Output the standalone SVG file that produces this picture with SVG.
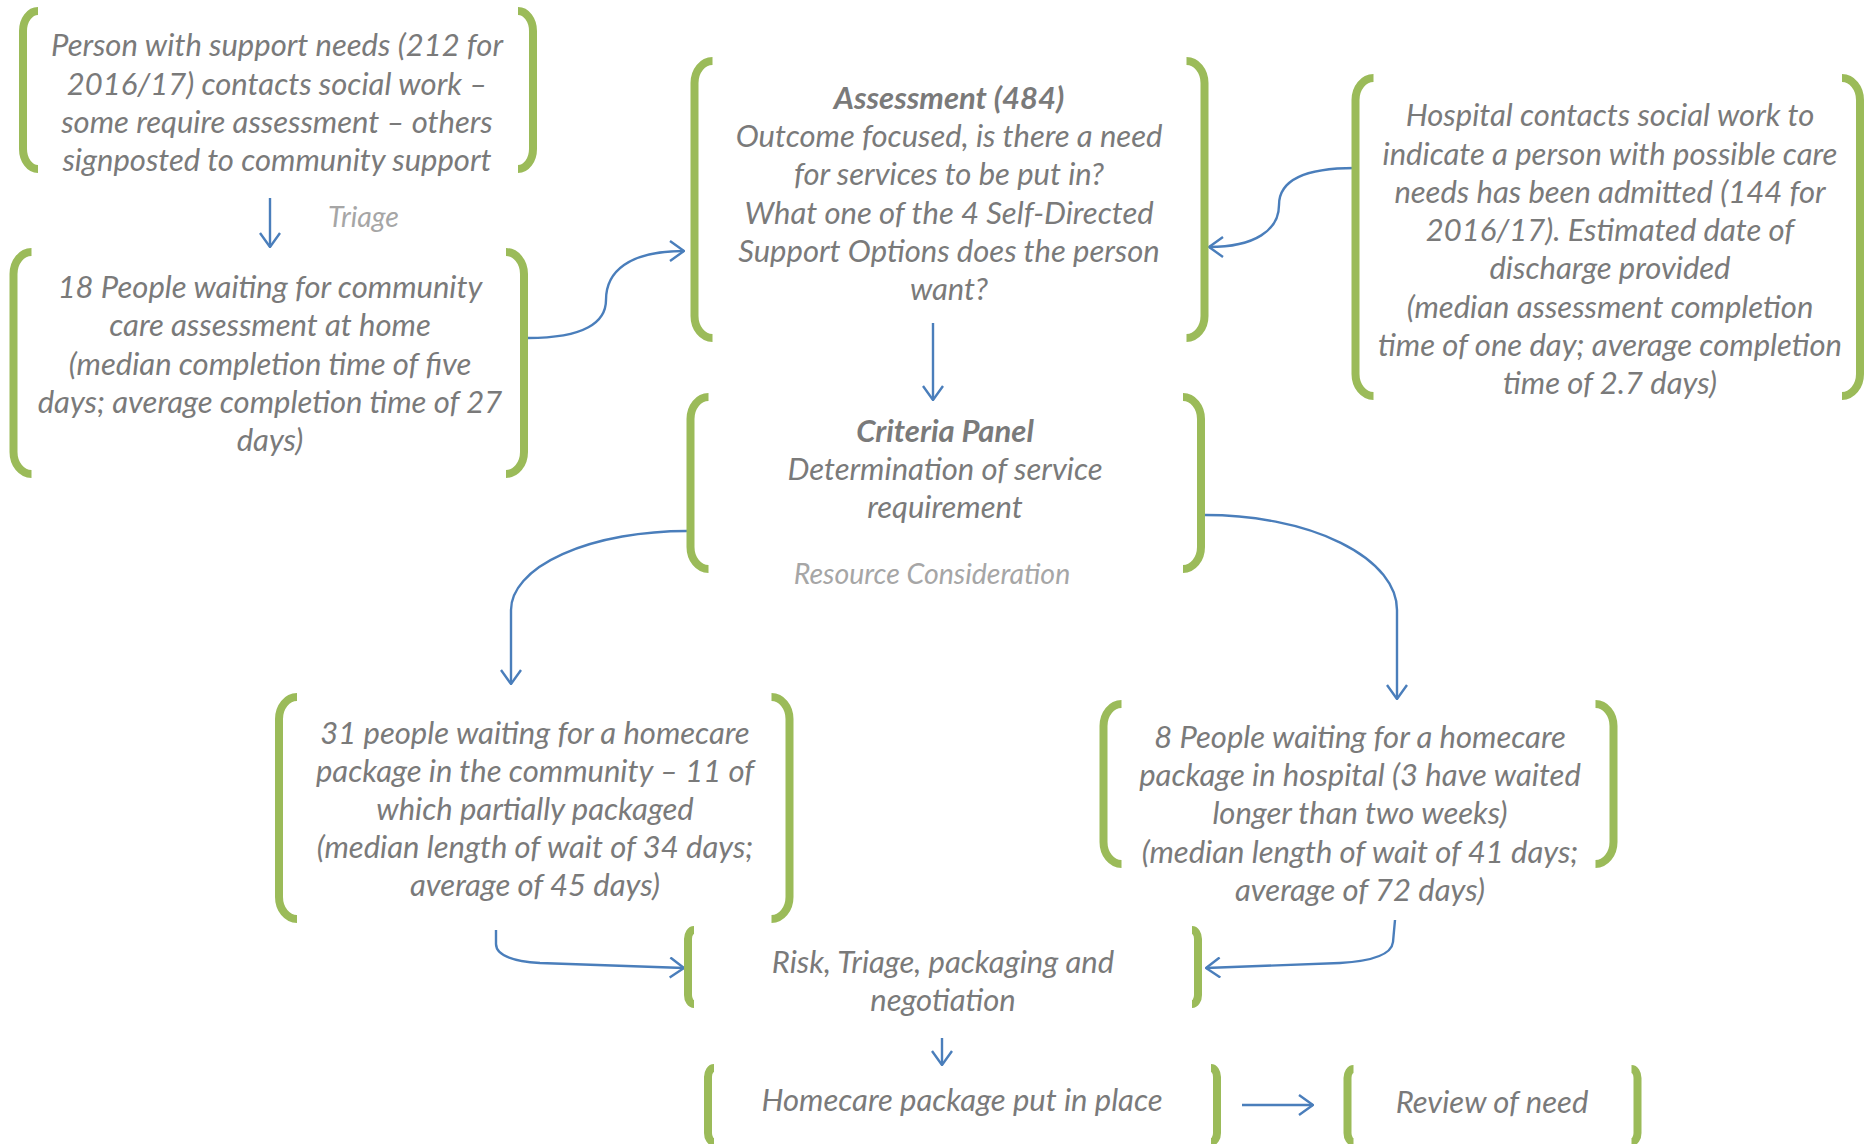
<svg xmlns="http://www.w3.org/2000/svg" width="1864" height="1144" viewBox="0 0 1864 1144">
<style>
.br{fill:none;stroke:#9bbb59;stroke-width:8;stroke-linecap:butt}
.t{font-family:Lato,"Open Sans","Liberation Sans",sans-serif;font-style:italic;font-size:31px;fill:#7a7a7a;text-anchor:middle}
.b{font-weight:bold}
.lt{font-family:Lato,"Open Sans","Liberation Sans",sans-serif;font-style:italic;font-size:28.5px;fill:#a6a6a6}
.c{fill:none;stroke:#4a7ebb;stroke-width:2.4}
</style>
<defs>
<marker id="ah" markerUnits="userSpaceOnUse" viewBox="0 0 16 22" refX="15" refY="11" markerWidth="16" markerHeight="22" orient="auto">
<path d="M1,1 L15,11 L1,21" fill="none" stroke="#4a7ebb" stroke-width="2.4"/>
</marker>
</defs>
<rect width="1864" height="1144" fill="#ffffff"/>
<g id="connectors">
<path class="c" d="M270,198 V247" marker-end="url(#ah)"/>
<path class="c" d="M528,338 C585,338 606,322 606,300 C606,272 628,251 684,251" marker-end="url(#ah)"/>
<path class="c" d="M1355,168 C1305,168 1279,180 1279,205 C1279,230 1255,247 1209,247" marker-end="url(#ah)"/>
<path class="c" d="M933,323 V400" marker-end="url(#ah)"/>
<path class="c" d="M687,531 A176,79 0 0 0 511,610 V684" marker-end="url(#ah)"/>
<path class="c" d="M1205,515 A192,95 0 0 1 1397,610 V699" marker-end="url(#ah)"/>
<path class="c" d="M496,930 V944 Q496,960 540,963 L684,968" marker-end="url(#ah)"/>
<path class="c" d="M1395,920 L1393,942 Q1391,960 1340,963 L1206,968" marker-end="url(#ah)"/>
<path class="c" d="M942,1038 V1065" marker-end="url(#ah)"/>
<path class="c" d="M1242,1105 H1313" marker-end="url(#ah)"/>
<text class="lt" x="328" y="227">Triage</text>
<text class="lt" x="932" y="584" text-anchor="middle">Resource Consideration</text>
</g>
<g id="n1">
<path class="br" d="M38,11 A15,20 0 0 0 23,31 V149 A15,20 0 0 0 38,169 M518,11 A15,20 0 0 1 533,31 V149 A15,20 0 0 1 518,169"/>
<text class="t"><tspan x="277" y="56">Person with support needs (212 for</tspan><tspan x="277" y="95">2016/17) contacts social work –</tspan><tspan x="277" y="133">some require assessment – others</tspan><tspan x="277" y="171">signposted to community support</tspan></text>
</g>
<g id="n2">
<path class="br" d="M31.5,252 A18,22 0 0 0 13.5,274 V452 A18,22 0 0 0 31.5,474 M506,252 A18,22 0 0 1 524,274 V452 A18,22 0 0 1 506,474"/>
<text class="t"><tspan x="270" y="298">18 People waiting for community</tspan><tspan x="270" y="336">care assessment at home</tspan><tspan x="270" y="375">(median completion time of five</tspan><tspan x="270" y="413">days; average completion time of 27</tspan><tspan x="270" y="451">days)</tspan></text>
</g>
<g id="n3">
<path class="br" d="M712.5,61 A18,22 0 0 0 694.5,83 V316 A18,22 0 0 0 712.5,338 M1186.5,61 A18,22 0 0 1 1204.5,83 V316 A18,22 0 0 1 1186.5,338"/>
<text class="t"><tspan class="b" x="949" y="109">Assessment (484)</tspan><tspan x="949" y="147">Outcome focused, is there a need</tspan><tspan x="949" y="185">for services to be put in?</tspan><tspan x="949" y="224">What one of the 4 Self-Directed</tspan><tspan x="949" y="262">Support Options does the person</tspan><tspan x="949" y="300">want?</tspan></text>
</g>
<g id="n4">
<path class="br" d="M1373.5,78 A18,22 0 0 0 1355.5,100 V374 A18,22 0 0 0 1373.5,396 M1842,78 A18,22 0 0 1 1860,100 V374 A18,22 0 0 1 1842,396"/>
<text class="t"><tspan x="1610" y="126">Hospital contacts social work to</tspan><tspan x="1610" y="165">indicate a person with possible care</tspan><tspan x="1610" y="203">needs has been admitted (144 for</tspan><tspan x="1610" y="241">2016/17). Estimated date of</tspan><tspan x="1610" y="279">discharge provided</tspan><tspan x="1610" y="318">(median assessment completion</tspan><tspan x="1610" y="356">time of one day; average completion</tspan><tspan x="1610" y="394">time of 2.7 days)</tspan></text>
</g>
<g id="n5">
<path class="br" d="M708.5,397 A18,22 0 0 0 690.5,419 V547 A18,22 0 0 0 708.5,569 M1183,397 A18,22 0 0 1 1201,419 V547 A18,22 0 0 1 1183,569"/>
<text class="t"><tspan class="b" x="945" y="442">Criteria Panel</tspan><tspan x="945" y="480">Determination of service</tspan><tspan x="945" y="518">requirement</tspan></text>
</g>
<g id="n6">
<path class="br" d="M297,697 A18,22 0 0 0 279,719 V897 A18,22 0 0 0 297,919 M771.5,697 A18,22 0 0 1 789.5,719 V897 A18,22 0 0 1 771.5,919"/>
<text class="t"><tspan x="535" y="744">31 people waiting for a homecare</tspan><tspan x="535" y="782">package in the community – 11 of</tspan><tspan x="535" y="820">which partially packaged</tspan><tspan x="535" y="858">(median length of wait of 34 days;</tspan><tspan x="535" y="896">average of 45 days)</tspan></text>
</g>
<g id="n7">
<path class="br" d="M1121.5,704 A18,22 0 0 0 1103.5,726 V842 A18,22 0 0 0 1121.5,864 M1595.5,704 A18,22 0 0 1 1613.5,726 V842 A18,22 0 0 1 1595.5,864"/>
<text class="t"><tspan x="1360" y="748">8 People waiting for a homecare</tspan><tspan x="1360" y="786">package in hospital (3 have waited</tspan><tspan x="1360" y="824">longer than two weeks)</tspan><tspan x="1360" y="863">(median length of wait of 41 days;</tspan><tspan x="1360" y="901">average of 72 days)</tspan></text>
</g>
<g id="n8">
<path class="br" d="M694,930 A6,9 0 0 0 688,939 V995 A6,9 0 0 0 694,1004 M1192,930 A6,9 0 0 1 1198,939 V995 A6,9 0 0 1 1192,1004"/>
<text class="t"><tspan x="943" y="973">Risk, Triage, packaging and</tspan><tspan x="943" y="1011">negotiation</tspan></text>
</g>
<g id="n9">
<path class="br" d="M714,1068 A6,9 0 0 0 708,1077 V1133 A6,9 0 0 0 714,1142 M1211,1068 A6,9 0 0 1 1217,1077 V1133 A6,9 0 0 1 1211,1142"/>
<text class="t" x="962" y="1111">Homecare package put in place</text>
</g>
<g id="n10">
<path class="br" d="M1353.5,1069 A6,9 0 0 0 1347.5,1078 V1133 A6,9 0 0 0 1353.5,1142 M1631.5,1069 A6,9 0 0 1 1637.5,1078 V1133 A6,9 0 0 1 1631.5,1142"/>
<text class="t" x="1492" y="1113">Review of need</text>
</g>
</svg>
